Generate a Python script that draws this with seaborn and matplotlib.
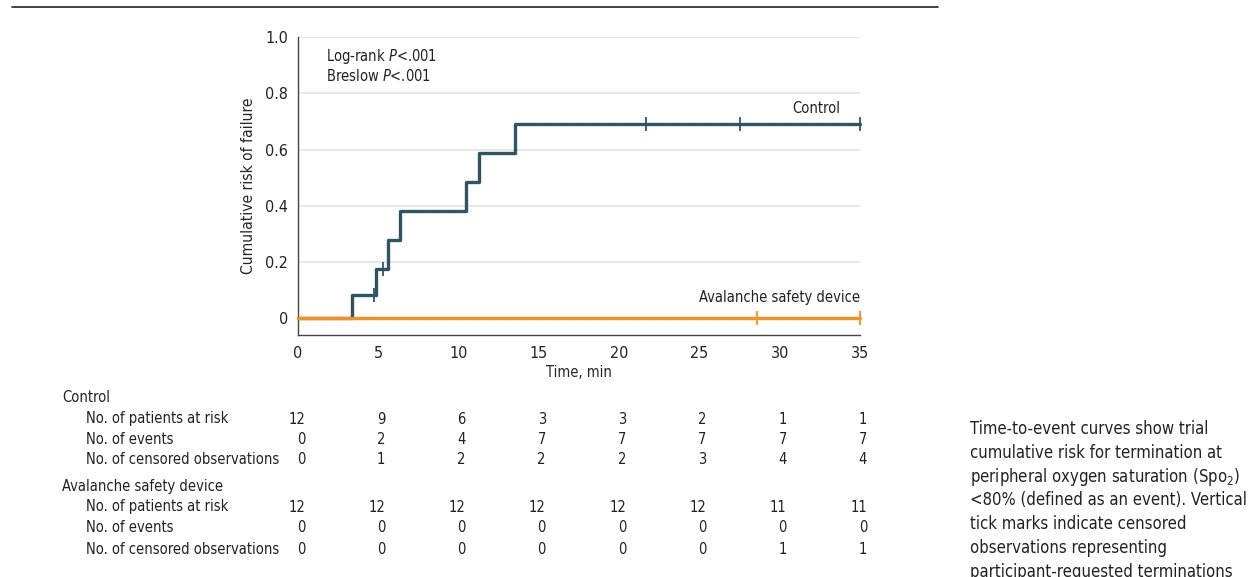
import numpy as np
import pandas as pd
import seaborn as sns
import matplotlib.pyplot as plt
from matplotlib import transforms

"""
Data read off the reference
"""
# cumulative risk steps (time in min, risk after the step)
control_times = [0, 3.34, 4.84, 5.6, 6.35, 10.44, 11.25, 13.53, 35]
control_risk = [0, 0.083, 0.175, 0.278, 0.381, 0.484, 0.588, 0.691, 0.691]
device_times = [0, 35]
device_risk = [0, 0]

# censored observations
control_cens_t = [4.75, 5.3, 21.7, 27.5, 35]
control_cens_y = [0.083, 0.175, 0.691, 0.691, 0.691]
device_cens_t = [28.6, 35]
device_cens_y = [0, 0]

# number-at-risk table
table_times = [0, 5, 10, 15, 20, 25, 30, 35]
ctrl_at_risk = [12, 9, 6, 3, 3, 2, 1, 1]
ctrl_events = [0, 2, 4, 7, 7, 7, 7, 7]
ctrl_censored = [0, 1, 2, 2, 2, 3, 4, 4]
dev_at_risk = [12, 12, 12, 12, 12, 12, 11, 11]
dev_events = [0, 0, 0, 0, 0, 0, 0, 0]
dev_censored = [0, 0, 0, 0, 0, 0, 1, 1]

caption = ["Time-to-event curves show trial",
           "cumulative risk for termination at",
           "peripheral oxygen saturation (Spo$_2$)",
           "<80% (defined as an event). Vertical",
           "tick marks indicate censored",
           "observations representing",
           "participant-requested terminations"]

CTRL = '#2f5562'
DEV = '#f5921e'

sns.set_style('white')
plt.rcParams['font.family'] = ['DejaVu Sans']
plt.rcParams['font.stretch'] = 'condensed'
plt.rcParams['mathtext.fontset'] = 'custom'
plt.rcParams['mathtext.rm'] = 'DejaVu Sans:stretch=condensed'
plt.rcParams['mathtext.it'] = 'DejaVu Sans:italic:stretch=condensed'
plt.rcParams['text.color'] = '#222222'

curves = pd.concat([
    pd.DataFrame({'time': control_times, 'risk': control_risk, 'group': 'Control'}),
    pd.DataFrame({'time': device_times, 'risk': device_risk, 'group': 'Device'}),
])
cens = pd.concat([
    pd.DataFrame({'time': control_cens_t, 'risk': control_cens_y, 'group': 'Control'}),
    pd.DataFrame({'time': device_cens_t, 'risk': device_cens_y, 'group': 'Device'}),
])

fig = plt.figure(figsize=(12.56, 5.77), dpi=100)
ax = fig.add_axes([298/1256, (577-335)/577, 562/1256, 298/577])

for g, col in [('Control', CTRL), ('Device', DEV)]:
    sns.lineplot(data=curves[curves.group == g], x='time', y='risk', color=col,
                 drawstyle='steps-post', lw=2.4, ax=ax, clip_on=False, zorder=3)
    sns.scatterplot(data=cens[cens.group == g], x='time', y='risk', color=col,
                    marker='|', s=110, linewidth=1.3, ax=ax, clip_on=False, zorder=4)

ax.set_xlim(0, 35)
ax.set_ylim(-0.059, 1.0)
ax.set_xticks(table_times)
ax.set_yticks([0, 0.2, 0.4, 0.6, 0.8, 1.0])
ax.set_yticklabels(['0', '0.2', '0.4', '0.6', '0.8', '1.0'])
for y in [0.2, 0.4, 0.6, 0.8, 1.0]:
    ax.axhline(y, color='#e2e2e2', lw=1.2, zorder=1)
sns.despine(ax=ax)
for s in ['left', 'bottom']:
    ax.spines[s].set_color('#444444')
    ax.spines[s].set_linewidth(1.0)
ax.tick_params(axis='both', direction='out', length=4, width=1, color='#444444',
               labelsize=11.5, labelcolor='#222222', pad=3)
ax.tick_params(axis='x', pad=4)
ax.set_xlabel('Time, min', fontsize=10.5, labelpad=3)
ax.set_ylabel('Cumulative risk of failure', fontsize=11.2, labelpad=7)

ax.text(1.75, 0.93, 'Log-rank $\\it{P}$<.001', fontsize=10.5, va='center')
ax.text(1.75, 0.86, 'Breslow $\\it{P}$<.001', fontsize=10.5, va='center')
ax.text(33.8, 0.745, 'Control', fontsize=10.5, ha='right', va='center')
ax.text(35, 0.075, 'Avalanche safety device', fontsize=10.5, ha='right', va='center')

# top rule
fig.add_artist(plt.Line2D([12/1256, 938/1256], [1-6.5/577, 1-6.5/577],
                          color='#222222', lw=1.2, transform=fig.transFigure))

# number-at-risk table
trans = transforms.blended_transform_factory(ax.transData, fig.transFigure)
rows = [('Control', None, 397),
        ('No. of patients at risk', ctrl_at_risk, 419),
        ('No. of events', ctrl_events, 439),
        ('No. of censored observations', ctrl_censored, 459),
        ('Avalanche safety device', None, 487),
        ('No. of patients at risk', dev_at_risk, 507),
        ('No. of events', dev_events, 527),
        ('No. of censored observations', dev_censored, 549)]
for label, vals, ypx in rows:
    yf = 1 - ypx/577
    if vals is None:
        fig.text(62/1256, yf, label, fontsize=10.5, va='center')
    else:
        fig.text(86/1256, yf, label, fontsize=10.5, va='center')
        for t, v in zip(table_times, vals):
            ax.text(t + 0.44, yf, str(v), transform=trans, fontsize=10.5,
                    ha='right', va='center', clip_on=False)

# caption (last line runs off the bottom edge, as in the source)
for i, line in enumerate(caption):
    fig.text(970/1256, 1 - (429 + 23.8*i)/577, line, fontsize=12, va='center',
             color='#222222')

fig.savefig('out.png', dpi=100)
